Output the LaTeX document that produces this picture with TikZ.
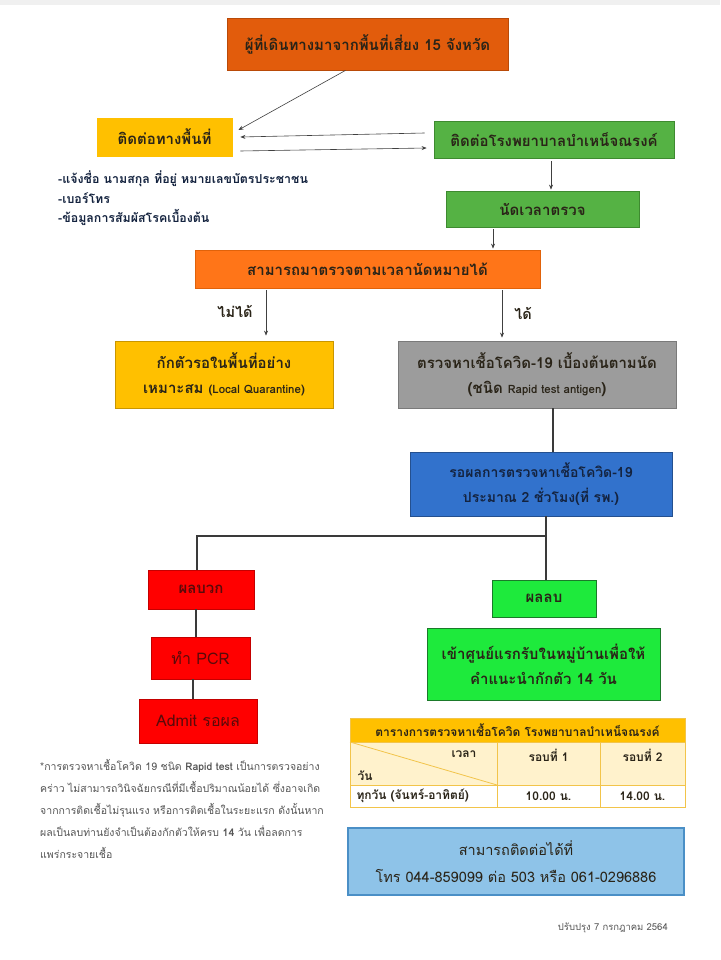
\documentclass[tikz,border=0pt]{standalone}
\usepackage{fontspec}
\setmainfont[Script=Thai]{Loma}
\usetikzlibrary{arrows.meta}
\definecolor{cTitle}{HTML}{E25C0C}
\definecolor{cTitleB}{HTML}{B94A08}
\definecolor{cYel}{HTML}{FFC000}
\definecolor{cYelB}{HTML}{C99600}
\definecolor{cGrn}{HTML}{55B244}
\definecolor{cGrnB}{HTML}{3E8A30}
\definecolor{cOra}{HTML}{FF7518}
\definecolor{cOraB}{HTML}{E0620A}
\definecolor{cGry}{HTML}{9C9C9C}
\definecolor{cGryB}{HTML}{7A7A7A}
\definecolor{cBlu}{HTML}{3272CC}
\definecolor{cBluB}{HTML}{24508F}
\definecolor{cRed}{HTML}{FF0000}
\definecolor{cRedB}{HTML}{C40000}
\definecolor{cLim}{HTML}{1EEA3C}
\definecolor{cLimB}{HTML}{1B7A2A}
\definecolor{cSky}{HTML}{8EC3E8}
\definecolor{cSkyB}{HTML}{4A8FC6}
\definecolor{cCream}{HTML}{FFF2CC}
\definecolor{cTabB}{HTML}{F2C44A}
\definecolor{txtD}{HTML}{2A2418}
\definecolor{txtR}{HTML}{5A0A0A}
\definecolor{txtB}{HTML}{14233F}
\definecolor{arrC}{HTML}{404040}
\definecolor{lnkC}{HTML}{3A3A3A}
\definecolor{noteC}{HTML}{555555}
\begin{document}
\begin{tikzpicture}[x=1pt,y=-1pt,
  box/.style={draw, line width=0.8pt, inner sep=0pt, align=center, text=txtD,
    font=\bfseries\fontsize{15}{25}\selectfont},
  arr/.style={draw=arrC, line width=0.6pt, -{Stealth[length=5pt,width=4pt]}},
  lnk/.style={draw=lnkC, line width=1.6pt},
  tab/.style={font=\bfseries\fontsize{12}{14}\selectfont, text=txtD},
  note/.style={inner sep=0pt, align=left, text=noteC}]
\useasboundingbox[fill=white] (0,0) rectangle (720,960);
\fill[black!6] (0,0) rectangle (720,5);

% boxes
\node[box, fill=cTitle, draw=cTitleB, minimum width=281pt, minimum height=52pt,
  font=\bfseries\fontsize{15}{17}\selectfont] (title) at (367.5,44)
  {ผู้ที่เดินทางมาจากพื้นที่เสี่ยง 15 จังหวัด};
\node[box, fill=cYel, draw=cYel, minimum width=135pt, minimum height=38pt] (tp) at (164.5,137) {ติดต่อทางพื้นที่};
\node[box, fill=cGrn, draw=cGrnB, minimum width=240pt, minimum height=37pt] (hosp) at (554,139.5) {ติดต่อโรงพยาบาลบำเหน็จณรงค์};
\node[box, fill=cGrn, draw=cGrnB, minimum width=193pt, minimum height=36pt] (appt) at (542.5,209) {นัดเวลาตรวจ};
\node[box, fill=cOra, draw=cOraB, minimum width=345pt, minimum height=38pt] (can) at (367.5,269) {สามารถมาตรวจตามเวลานัดหมายได้};
\node[box, fill=cYel, draw=cYelB, minimum width=218pt, minimum height=67pt] (lq) at (224,374.5)
  {กักตัวรอในพื้นที่อย่าง\\เหมาะสม {\fontsize{11.5}{25}\selectfont (Local Quarantine)}};
\node[box, fill=cGry, draw=cGryB, minimum width=278pt, minimum height=67pt] (test) at (537,374.5)
  {ตรวจหาเชื้อโควิด-19 เบื้องต้นตามนัด\\({}ชนิด {\fontsize{11.5}{25}\selectfont Rapid test antigen})};
\node[box, fill=cBlu, draw=cBluB, minimum width=262pt, minimum height=64pt, text=txtB,
  font=\bfseries\fontsize{14}{25}\selectfont] (wait) at (541,484)
  {รอผลการตรวจหาเชื้อโควิด-19\\ประมาณ 2 ชั่วโมง(ที่ รพ.)};
\node[box, fill=cRed, draw=cRedB, minimum width=106pt, minimum height=39pt, text=txtR] (pos) at (201,589.5) {ผลบวก};
\node[box, fill=cLim, draw=cLimB, minimum width=104pt, minimum height=37pt] (neg) at (544,598.5) {ผลลบ};
\node[box, fill=cRed, draw=cRedB, minimum width=99pt, minimum height=42pt, text=txtR,
  font=\fontsize{16}{18}\selectfont] (pcr) at (200.5,658) {ทำ PCR};
\node[box, fill=cRed, draw=cRedB, minimum width=118pt, minimum height=44pt, text=txtR,
  font=\fontsize{16}{18}\selectfont] (admit) at (198,721) {Admit รอผล};
\node[box, fill=cLim, draw=cLimB, minimum width=233pt, minimum height=72pt] (camp) at (543.5,664)
  {เข้าศูนย์แรกรับในหมู่บ้านเพื่อให้\\คำแนะนำกักตัว 14 วัน};
\node[box, fill=cSky, draw=cSkyB, line width=2pt, minimum width=336pt, minimum height=67pt,
  font=\fontsize{14.5}{27}\selectfont] (call) at (516,861.5)
  {สามารถติดต่อได้ที่\\โทร 044-859099 ต่อ 503 หรือ 061-0296886};

% bullet text
\node[note, anchor=north west, text=txtB, font=\bfseries\fontsize{12.4}{19.5}\selectfont] (info) at (58,171)
  {-แจ้งชื่อ นามสกุล ที่อยู่ หมายเลขบัตรประชาชน\\-เบอร์โทร\\-ข้อมูลการสัมผัสโรคเบื้องต้น};

% arrows top
\draw[arr] ([xshift=-22pt]title.south) -- ([xshift=6pt,yshift=7pt]tp.east);
\draw[arr] ([xshift=-9pt,yshift=6.5pt]hosp.west) -- ([xshift=8pt]tp.east);
\draw[arr] ([xshift=8pt,yshift=-14pt]tp.east) -- ([xshift=-7pt,yshift=-8.5pt]hosp.west);
\draw[arr] ([xshift=-3pt,yshift=-3pt]hosp.south) -- ([xshift=-3pt,yshift=1pt]hosp.south |- appt.north);
\draw[arr] ([xshift=-49.5pt,yshift=-2pt]appt.south) -- ([xshift=-49.5pt,yshift=1pt]appt.south |- can.north);
\draw[arr] ([xshift=-101.5pt,yshift=-2pt]can.south) -- ([xshift=-101.5pt,yshift=5pt]can.south |- lq.north);
\draw[arr] ([xshift=134.5pt,yshift=-2pt]can.south) -- ([xshift=134.5pt,yshift=3pt]can.south |- test.north);
\node[font=\bfseries\fontsize{14.5}{16}\selectfont, text=txtD] (no) at (235,311) {ไม่ได้};
\node[font=\bfseries\fontsize{14.5}{16}\selectfont, text=txtD] (yes) at (523,313) {ได้};

% links
\draw[lnk, line width=1.2pt] ([xshift=16pt]test.south) -- ([xshift=16pt]test.south |- wait.north);
\coordinate (j) at (546,536);
\coordinate (jl) at (197,536);
\draw[lnk] ([xshift=5pt]wait.south) -- (j) -- (jl) -- (jl |- pos.north);
\draw[lnk] (j) -- (j |- neg.north);
\draw[lnk] ([xshift=-5pt]pos.south) -- ([xshift=-5pt]pos.south |- pcr.north);
\draw[lnk] ([xshift=-7.5pt]pcr.south) -- ([xshift=-7.5pt]pcr.south |- admit.north);

% table
\fill[cYel] (350,718) rectangle (685,742);
\fill[cCream] (350,742) rectangle (685,785);
\draw[cTabB, line width=0.8pt] (350,718) rectangle (685,807);
\draw[cTabB, line width=0.8pt] (350,742) -- (685,742) (350,785) -- (685,785)
  (497,742) -- (497,807) (600,742) -- (600,807);
\draw[cTabB, line width=0.8pt] (350,742) -- (497,785);
\node[tab] (th) at (517.5,730) {ตารางการตรวจหาเชื้อโควิด โรงพยาบาลบำเหน็จณรงค์};
\node[tab, anchor=east] (tt) at (480,754) {เวลา};
\node[tab, anchor=west] (td) at (354,776) {วัน};
\node[tab] (r1) at (548.5,755) {รอบที่ 1};
\node[tab] (r2) at (642.5,755) {รอบที่ 2};
\node[tab, anchor=west] (every) at (353,796) {ทุกวัน (จันทร์-อาทิตย์)};
\node[tab] (t1) at (548.5,796) {10.00 น.};
\node[tab] (t2) at (642.5,796) {14.00 น.};

% footnote
\node[note, anchor=north west, font=\fontsize{10.5}{22}\selectfont] (fn) at (40,759)
  {*การตรวจหาเชื้อโควิด 19 ชนิด \textbf{Rapid test} เป็นการตรวจอย่าง\\
   คร่าว ไม่สามารถวินิจฉัยกรณีที่มีเชื้อปริมาณน้อยได้ ซึ่งอาจเกิด\\
   จากการติดเชื้อไม่รุนแรง หรือการติดเชื้อในระยะแรก ดังนั้นหาก\\
   ผลเป็นลบท่านยังจำเป็นต้องกักตัวให้ครบ \textbf{14} วัน เพื่อลดการ\\
   แพร่กระจายเชื้อ};
\node[note, anchor=east, font=\fontsize{9.5}{11}\selectfont] (upd) at (668,928) {ปรับปรุง 7 กรกฎาคม 2564};
\end{tikzpicture}
\end{document}
